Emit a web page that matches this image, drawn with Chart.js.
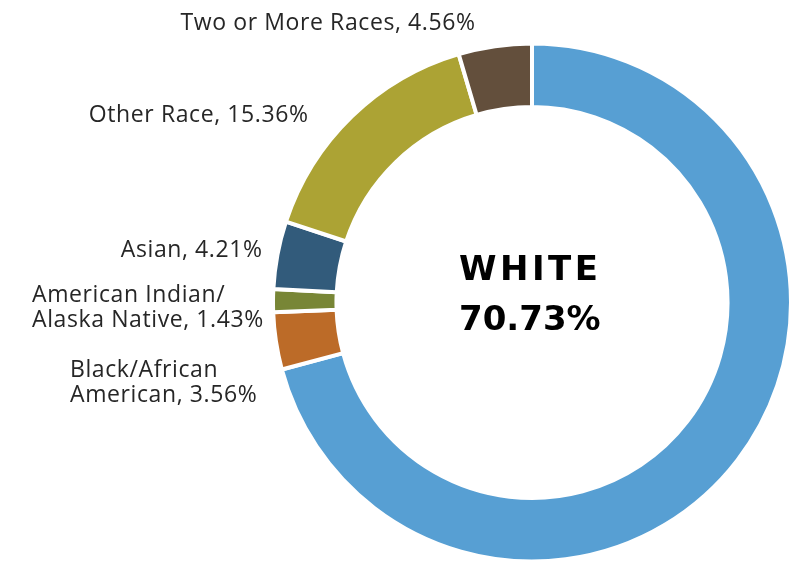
<!DOCTYPE html>
<html>
<head>
<meta charset="utf-8">
<script src="https://cdn.jsdelivr.net/npm/chart.js@4"></script>
<style>
  html, body { margin: 0; padding: 0; background: #fff; }
  #wrap { width: 801px; height: 564px; position: relative; }
</style>
</head>
<body>
<div id="wrap"><canvas id="raceChart" width="801" height="564"></canvas></div>
<script>
// race breakdown, clockwise from 12 o'clock
const categories = ['White', 'Black/African American', 'American Indian/Alaska Native', 'Asian', 'Other Race', 'Two or More Races'];
const shares = [70.73, 3.56, 1.43, 4.21, 15.36, 4.56];
const sliceColors = ['#579fd3', '#bc6b28', '#788636', '#325b7b', '#aca334', '#634f3c'];
// how each outside label breaks into lines
const labelLines = [
    null,
    ['Black/African', 'American, ' + shares[1].toFixed(2) + '%'],
    ['American Indian/', 'Alaska Native, ' + shares[2].toFixed(2) + '%'],
    ['Asian, ' + shares[3].toFixed(2) + '%'],
    ['Other Race, ' + shares[4].toFixed(2) + '%'],
    ['Two or More Races, ' + shares[5].toFixed(2) + '%']
];

// where the labels sit (baseline of first line)
const labelSpots = [
    null,
    { x: 70, y: 377, align: 'left' },
    { x: 32, y: 302, align: 'left' },
    { x: 262, y: 257, align: 'right' },
    { x: 308, y: 122, align: 'right' },
    { x: 475, y: 30, align: 'right' }
];

const outsideLabels = {
    id: 'outsideLabels',
    afterDraw(chart) {
        const ctx = chart.ctx;
        ctx.save();
        ctx.fillStyle = '#262626';
        ctx.font = '400 23px "Open Sans", sans-serif';
        ctx.letterSpacing = '0.6px';
        ctx.textBaseline = 'alphabetic';
        labelLines.forEach((lines, i) => {
            if (!lines) return;
            const spot = labelSpots[i];
            ctx.textAlign = spot.align;
            const dx = spot.align === 'right' ? 0.6 : 0;
            lines.forEach((line, j) => ctx.fillText(line, spot.x + dx, spot.y + j * 25));
        });

        // big centre label for the largest group
        const arc = chart.getDatasetMeta(0).data[0];
        ctx.fillStyle = '#000';
        ctx.font = '700 34px "DejaVu Sans", sans-serif';
        ctx.textAlign = 'left';
        ctx.letterSpacing = '3.5px';
        ctx.fillText(categories[0].toUpperCase(), arc.x - 73, 280);
        ctx.letterSpacing = '0px';
        ctx.fillText(shares[0].toFixed(2) + '%', arc.x - 73, 330);
        ctx.restore();
    }
};

function initChart() {
    const ctx = document.getElementById('raceChart').getContext('2d');
    new Chart(ctx, {
        type: 'doughnut',
        data: {
            labels: categories,
            datasets: [{
                data: shares,
                backgroundColor: sliceColors,
                borderColor: '#ffffff',
                borderWidth: 4
            }]
        },
        options: {
            responsive: false,
            animation: false,
            cutout: '75.5%',
            layout: { padding: { top: 41, bottom: 0, left: 271, right: 8 } },
            plugins: {
                legend: { display: false },
                tooltip: { enabled: false }
            }
        },
        plugins: [outsideLabels]
    });
}

document.addEventListener('DOMContentLoaded', initChart);
</script>
</body>
</html>
